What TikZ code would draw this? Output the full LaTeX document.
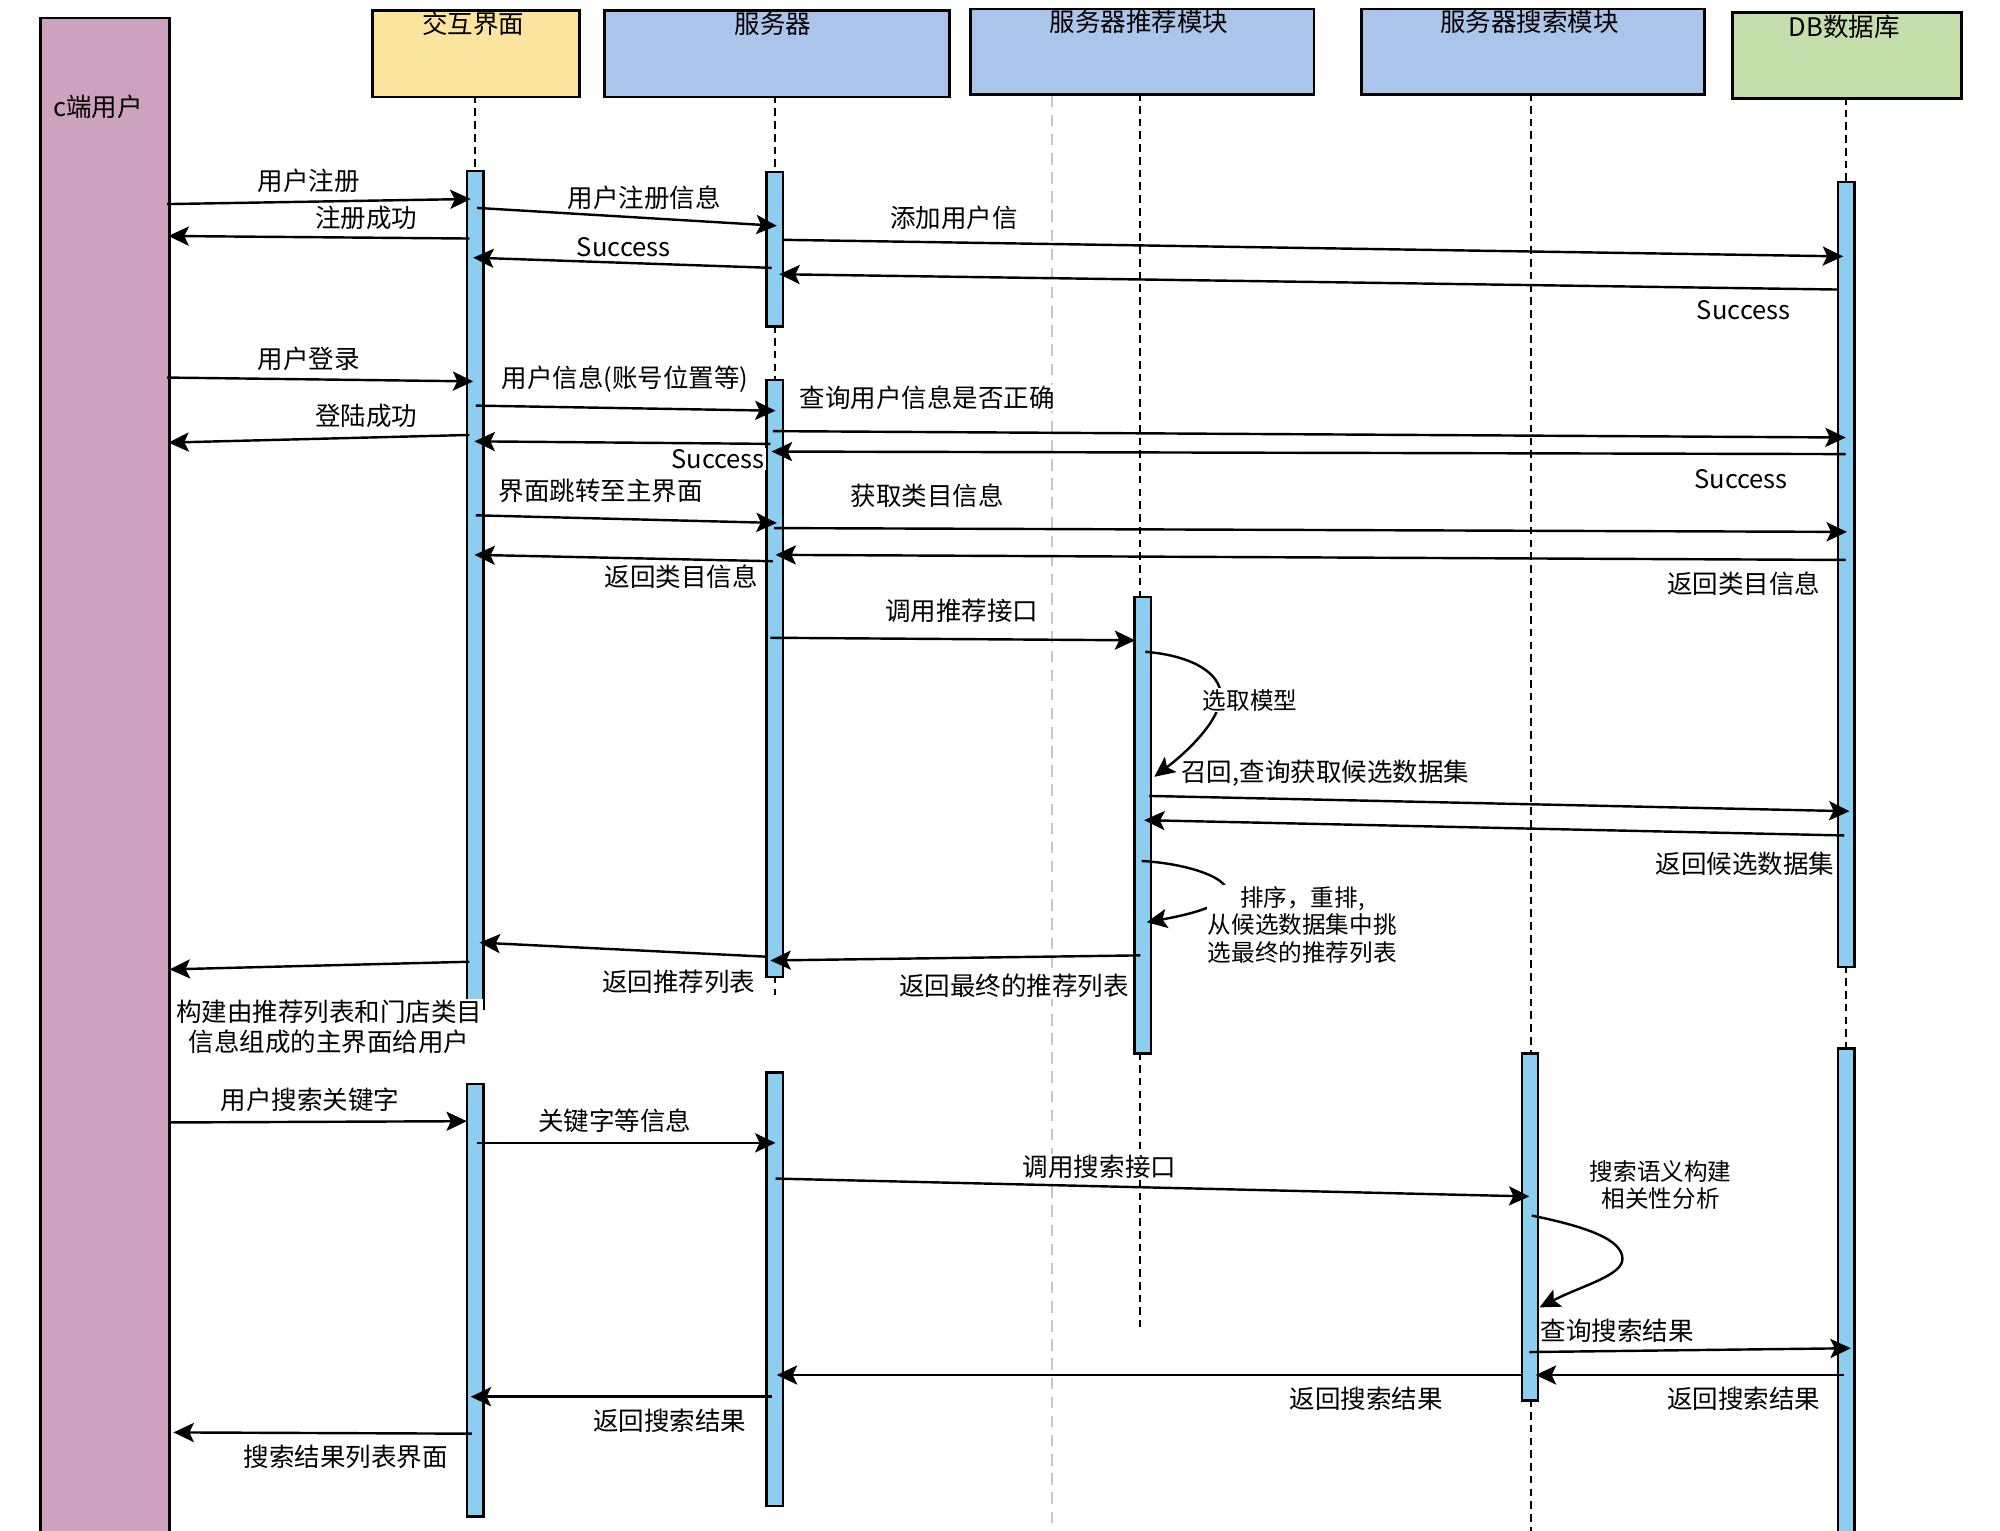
\documentclass[tikz,border=0pt]{standalone}
\usepackage{fontspec}
\setmainfont{Noto Sans CJK SC}
\usetikzlibrary{arrows.meta}
\definecolor{cuser}{HTML}{CDA2BE}
\definecolor{yelbox}{HTML}{FAE49E}
\definecolor{bluebox}{HTML}{ABC4EA}
\definecolor{greenbox}{HTML}{C4DFAB}
\definecolor{actblue}{HTML}{8DCDF0}
\begin{document}
\begin{tikzpicture}[x=1pt,y=-1pt,
  hdr/.style={draw=black, line width=2.2pt, inner sep=0pt},
  htext/.style={font=\fontsize{20}{24}\selectfont, inner sep=0pt},
  act/.style={draw=black, fill=actblue, line width=1.8pt, minimum width=13pt, inner sep=0pt},
  life/.style={line width=1.6pt, dash pattern=on 6pt off 4pt},
  glife/.style={line width=1.6pt, draw=black!22, dash pattern=on 9pt off 6pt},
  msg/.style={line width=1.9pt, -{Stealth[length=16pt,width=15pt,inset=3.5pt]}},
  lbl/.style={fill=white, inner sep=1pt, font=\fontsize{20}{24}\selectfont},
  slbl/.style={fill=white, inner sep=1pt, align=center, font=\fontsize{18.5}{21.5}\selectfont}]
\useasboundingbox (0,0) rectangle (1568,1200);
\fill[white] (0,0) rectangle (1568,1200);

% ---------- headers ----------
\node (hU) [hdr, fill=cuser, minimum width=101pt, minimum height=1200pt, anchor=north west] at (30.5,13) {};
\node (tU) [htext] at (77,84) {c端用户};
\node (hI) [hdr, fill=yelbox, minimum width=162pt, minimum height=68pt, anchor=north west] at (291,7) {};
\node (tI) [htext] at (371,19) {交互界面};
\node (hS) [hdr, fill=bluebox, minimum width=270pt, minimum height=68pt, anchor=north west] at (473,7) {};
\node (tS) [htext] at (606,19) {服务器};
\node (hR) [hdr, fill=bluebox, minimum width=269pt, minimum height=67pt, anchor=north west] at (760,6) {};
\node (tR) [htext] at (893,17) {服务器推荐模块};
\node (hQ) [hdr, fill=bluebox, minimum width=269pt, minimum height=67pt, anchor=north west] at (1066,6) {};
\node (tQ) [htext] at (1199,17) {服务器搜索模块};
\node (hD) [hdr, fill=greenbox, minimum width=180pt, minimum height=67pt, anchor=north west] at (1357,9) {};
\node (tD) [htext] at (1446,21) {DB数据库};

% ---------- lifelines ----------
\coordinate (gTop) at (825,75);
\coordinate (gBot) at (825,1200);
\draw[glife] (gTop) -- (gBot);

\coordinate (lI0) at (372.5,75);   \coordinate (lI1) at (372.5,133);
\coordinate (lS0) at (607.5,75);   \coordinate (lS1) at (607.5,134);
\coordinate (lS2) at (607.5,255);  \coordinate (lS3) at (607.5,297);
\coordinate (lS4) at (607.5,765);  \coordinate (lS5) at (607.5,780);
\coordinate (lR0) at (894,73);     \coordinate (lR1) at (894,467);
\coordinate (lR2) at (894,825);    \coordinate (lR3) at (894,1040);
\coordinate (lQ0) at (1200,73);    \coordinate (lQ1) at (1200,825);
\coordinate (lQ2) at (1200,1097);  \coordinate (lQ3) at (1200,1200);
\coordinate (lD0) at (1447.5,76);  \coordinate (lD1) at (1447.5,142);
\coordinate (lD2) at (1447.5,757); \coordinate (lD3) at (1447.5,821);
\draw[life] (lI0) -- (lI1);
\draw[life] (lS0) -- (lS1);
\draw[life] (lS2) -- (lS3);
\draw[life] (lS4) -- (lS5);
\draw[life] (lR0) -- (lR1);
\draw[life] (lR2) -- (lR3);
\draw[life] (lQ0) -- (lQ1);
\draw[life] (lQ2) -- (lQ3);
\draw[life] (lD0) -- (lD1);
\draw[life] (lD2) -- (lD3);

% ---------- activation bars ----------
\node (aI1) [act, minimum height=657pt, anchor=north] at (372.5,133) {};
\node (aI2) [act, minimum height=339pt, anchor=north] at (372.5,849) {};
\node (aS1) [act, minimum height=121pt, anchor=north] at (607.5,134) {};
\node (aS2) [act, minimum height=468pt, anchor=north] at (607.5,297) {};
\node (aS3) [act, minimum height=340pt, anchor=north] at (607.5,840) {};
\node (aR1) [act, minimum height=358pt, anchor=north] at (896,467) {};
\node (aQ1) [act, minimum height=272pt, anchor=north] at (1199.5,825) {};
\node (aD1) [act, minimum height=615pt, anchor=north] at (1447.5,142) {};
\node (aD2) [act, minimum height=400pt, anchor=north] at (1447.5,821) {};

% ---------- messages ----------
\coordinate (m1s) at (131,160);   \coordinate (m1e) at (369,156);
\coordinate (m2s) at (368,187);   \coordinate (m2e) at (132,185);
\coordinate (m3s) at (374,163);   \coordinate (m3e) at (609,177);
\coordinate (m4s) at (605,210);   \coordinate (m4e) at (371,202);
\coordinate (m5s) at (613,188);   \coordinate (m5e) at (1445,201);
\coordinate (m6s) at (1441,227);  \coordinate (m6e) at (611,215);
\coordinate (m7s) at (131,296);   \coordinate (m7e) at (371,299);
\coordinate (m8s) at (373,318);   \coordinate (m8e) at (608,322);
\coordinate (m9s) at (368,341);   \coordinate (m9e) at (132,347);
\coordinate (m10s) at (606,338);  \coordinate (m10e) at (1447,343);
\coordinate (m11s) at (604,348);  \coordinate (m11e) at (372,346);
\coordinate (m12s) at (1447,356); \coordinate (m12e) at (605,354);
\coordinate (m13s) at (373,404);  \coordinate (m13e) at (609,410);
\coordinate (m14s) at (607,414);  \coordinate (m14e) at (1448,417);
\coordinate (m15s) at (606,440);  \coordinate (m15e) at (372,435);
\coordinate (m16s) at (1447,439); \coordinate (m16e) at (608,435);
\coordinate (m17s) at (604,500);  \coordinate (m17e) at (890,502);
\coordinate (m18s) at (898,511);  \coordinate (m18e) at (905,609);
\coordinate (m19s) at (901,624);  \coordinate (m19e) at (1450,636);
\coordinate (m20s) at (1446,655); \coordinate (m20e) at (897,643);
\coordinate (m21s) at (895,675);  \coordinate (m21e) at (899,723);
\coordinate (m22s) at (894,749);  \coordinate (m22e) at (604,753);
\coordinate (m23s) at (600,750);  \coordinate (m23e) at (376,739);
\coordinate (m24s) at (368,754);  \coordinate (m24e) at (133,760);
\coordinate (m25s) at (133,880);  \coordinate (m25e) at (366,879);
\coordinate (m26s) at (374,896);  \coordinate (m26e) at (608,896);
\coordinate (m27s) at (608,924);  \coordinate (m27e) at (1199,938);
\coordinate (m28s) at (1201,953); \coordinate (m28e) at (1207,1025);
\coordinate (m29s) at (1199,1060);\coordinate (m29e) at (1451,1057);
\coordinate (m30s) at (1446,1078);\coordinate (m30e) at (1204,1078);
\coordinate (m31s) at (1194,1078);\coordinate (m31e) at (609,1078);
\coordinate (m32s) at (605,1095); \coordinate (m32e) at (369,1095);
\coordinate (m33s) at (370,1124); \coordinate (m33e) at (136,1123);

\draw[msg] (m1s) -- (m1e);
\draw[msg] (m2s) -- (m2e);
\draw[msg] (m3s) -- (m3e);
\draw[msg] (m4s) -- (m4e);
\draw[msg] (m5s) -- (m5e);
\draw[msg] (m6s) -- (m6e);
\draw[msg] (m7s) -- (m7e);
\draw[msg] (m8s) -- (m8e);
\draw[msg] (m9s) -- (m9e);
\draw[msg] (m10s) -- (m10e);
\draw[msg] (m11s) -- (m11e);
\draw[msg] (m12s) -- (m12e);
\draw[msg] (m13s) -- (m13e);
\draw[msg] (m14s) -- (m14e);
\draw[msg] (m15s) -- (m15e);
\draw[msg] (m16s) -- (m16e);
\draw[msg] (m17s) -- (m17e);
\draw[msg] (m18s) .. controls (935,514) and (957,528) .. (957,545)
                  .. controls (957,565) and (930,590) .. (m18e);
\draw[msg] (m19s) -- (m19e);
\draw[msg] (m20s) -- (m20e);
\draw[msg] (m21s) .. controls (950,678) and (1005,704) .. (m21e);
\draw[msg] (m22s) -- (m22e);
\draw[msg] (m23s) -- (m23e);
\draw[msg] (m24s) -- (m24e);
\draw[msg] (m25s) -- (m25e);
\draw[msg] (m26s) -- (m26e);
\draw[msg] (m27s) -- (m27e);
\draw[msg] (m28s) .. controls (1245,962) and (1272,972) .. (1272,987)
                  .. controls (1272,1000) and (1240,1008) .. (m28e);
\draw[msg] (m29s) -- (m29e);
\draw[msg] (m30s) -- (m30e);
\draw[msg] (m31s) -- (m31e);
\draw[msg] (m32s) -- (m32e);
\draw[msg] (m33s) -- (m33e);

% ---------- labels ----------
\node (L1)  [lbl] at (242,142) {用户注册};
\node (L2)  [lbl] at (287,171) {注册成功};
\node (L3)  [lbl] at (505,155) {用户注册信息};
\node (L4)  [lbl] at (489,194) {Success};
\node (L5)  [lbl] at (748,171) {添加用户信};
\node (L6)  [lbl] at (1367,243) {Success};
\node (L7)  [lbl] at (242,281) {用户登录};
\node (L8)  [lbl] at (490,297) {用户信息(账号位置等)};
\node (L9)  [lbl] at (287,326) {登陆成功};
\node (L10) [lbl] at (727,312) {查询用户信息是否正确};
\node (L11) [lbl] at (563,360) {Success};
\node (L12) [lbl] at (1365,376) {Success};
\node (L13) [lbl] at (471,385) {界面跳转至主界面};
\node (L14) [lbl] at (727,389) {获取类目信息};
\node (L15) [lbl] at (534,452) {返回类目信息};
\node (L16) [lbl] at (1367,458) {返回类目信息};
\node (L17) [lbl] at (754,479) {调用推荐接口};
\node (L18) [slbl] at (980,549) {选取模型};
\node (L19) [lbl] at (1039,606) {召回,查询获取候选数据集};
\node (L20) [lbl] at (1368,677) {返回候选数据集};
\node (L21) [slbl] at (1021,725) {排序，重排,\\从候选数据集中挑\\选最终的推荐列表};
\node (L22) [lbl] at (795,773) {返回最终的推荐列表};
\node (L23) [lbl] at (532,770) {返回推荐列表};
\node (L24) [lbl, align=center, font=\fontsize{20}{23}\selectfont] at (258,805) {构建由推荐列表和门店类目\\信息组成的主界面给用户};
\node (L25) [lbl] at (243,862) {用户搜索关键字};
\node (L26) [lbl] at (482,879) {关键字等信息};
\node (L27) [lbl] at (862,915) {调用搜索接口};
\node (L28) [slbl] at (1302,929) {搜索语义构建\\相关性分析};
\node (L29) [lbl] at (1268,1043) {查询搜索结果};
\node (L30) [lbl] at (1367,1097) {返回搜索结果};
\node (L31) [lbl] at (1071,1097) {返回搜索结果};
\node (L32) [lbl] at (525,1114) {返回搜索结果};
\node (L33) [lbl] at (271,1142) {搜索结果列表界面};
\end{tikzpicture}
\end{document}
